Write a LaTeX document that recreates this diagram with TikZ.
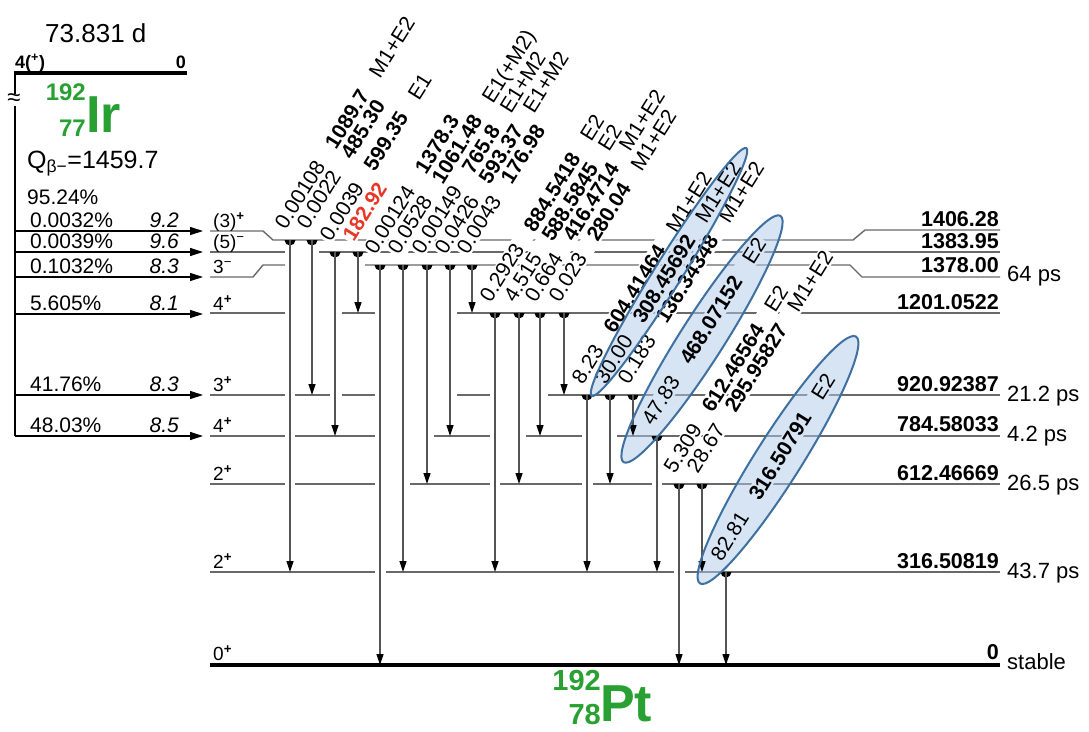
\documentclass[tikz,border=0pt]{standalone}
\usepackage{fontspec}
\setmainfont{Liberation Sans}
\usetikzlibrary{arrows.meta}
\pgfdeclarelayer{lev}\pgfdeclarelayer{msk}
\pgfsetlayers{lev,msk,main}
\definecolor{lvgray}{RGB}{105,105,105}
\definecolor{trgray}{RGB}{85,85,85}
\definecolor{nucgreen}{RGB}{40,160,50}
\definecolor{elfill}{RGB}{175,202,235}
\definecolor{eldraw}{RGB}{62,112,160}
\definecolor{redlab}{RGB}{232,55,40}
\newcommand\tr[3]{\fill (#1-5.5,#2) arc[start angle=180,end angle=360,radius=5.5pt];
  \draw[trans] (#1,#2) -- (#1,#3);}
\newcommand\mpol[1]{\hspace{0.9em}#1}
\newcommand\glab[6]{\node[glab] (#1) at (#2-5,#3-8) {#4\hspace{0.9em}\textbf{#5}#6};
  \begin{pgfonlayer}{msk}\fill[white] (#1.south west) -- (#1.south east) -- (#1.north east) -- (#1.north west) -- cycle;\end{pgfonlayer}}
\newcommand\feed[5]{\draw[feedar] (15,#2) -- (203,#2);
  \node[txt, anchor=base west] (p#1) at (30,#2-4) {#3};
  \node[txt, anchor=base east] (f#1) at (179,#2-4) {\itshape #4};
  \node[spin] (s#1) at (213,#2-4) {#5};}
\newcommand\hell[4]{% centre x, centre y, angle, minor radius
  \begin{pgfonlayer}{msk}\fill[elfill, fill opacity=0.5, shift={(#1,#2)}, rotate=#3] (0,0) ellipse [x radius=146, y radius=#4];\end{pgfonlayer}
  \draw[eldraw, line width=2pt, shift={(#1,#2)}, rotate=#3] (0,0) ellipse [x radius=146, y radius=#4];}
\begin{document}
\begin{tikzpicture}[x=1pt,y=-1pt,
  lvl/.style={draw=lvgray, line width=1.4pt},
  trans/.style={draw=trgray, line width=1.2pt, -{Triangle[length=11pt,width=7pt,color=black]}},
  feedar/.style={draw=black, line width=1.2pt, -{Triangle[length=13pt,width=8pt]}},
  glab/.style={rotate=58, anchor=base west, inner sep=1.5pt, font=\fontsize{21}{24}\selectfont},
  txt/.style={inner sep=0pt, font=\fontsize{21}{24}\selectfont},
  spin/.style={inner sep=0pt, anchor=base west, font=\fontsize{19}{22}\selectfont},
  elab/.style={inner sep=0pt, anchor=base east, font=\fontsize{21.5}{24}\selectfont\bfseries},
  tlab/.style={inner sep=0pt, anchor=base west, font=\fontsize{22}{24}\selectfont}]
\useasboundingbox (0,0) rectangle (1089,731);
\begin{pgfonlayer}{lev}
\fill[white] (0,0) rectangle (1089,731);
% levels
\draw[lvl] (210,231) -- (263,231) -- (273,240) -- (853,240) -- (865,230) -- (1000,230);
\draw[lvl] (210,252) -- (285,252) (319,252) -- (1000,252);
\draw[lvl] (210,277) -- (253,277) -- (263,265) -- (285,265) (365,265) -- (850,265) -- (862,277) -- (1000,277);
\draw[lvl] (210,313) -- (285,313) (342,313) -- (375,313) (457,313) -- (1000,313);
\draw[lvl] (210,395) -- (285,395) (295,395) -- (330,395) (342,395) -- (375,395) (457,395) -- (490,395) (548,395) -- (1000,395);
\draw[lvl] (210,436) -- (285,436) (295,436) -- (375,436) (434,436) -- (490,436) (526,436) -- (582,436) (617,436) -- (1000,436);
\draw[lvl] (210,484) -- (285,484) (295,484) -- (375,484) (410,484) -- (490,484) (500,484) -- (582,484) (593,484) -- (652,484) (662,484) -- (1000,484);
\draw[lvl] (210,572) -- (375,572) (386,572) -- (674,572) (685,572) -- (1000,572);
\draw[black, line width=4.5pt] (210,665) -- (1000,665);
\end{pgfonlayer}
% parent
\draw[black, line width=4pt] (14,73) -- (187,73);
\draw[black, line width=1.2pt] (15,73) -- (15,436);
\node[fill=white, inner sep=0pt, font=\fontsize{24}{26}\selectfont] (brk) at (14,100) {≈};
\node[inner sep=0pt, anchor=base west, font=\fontsize{26}{30}\selectfont] (hl) at (45,42) {73.831 d};
\node[inner sep=0pt, anchor=base west, font=\fontsize{18}{20}\selectfont\bfseries] (pj) at (15,68) {4(\textsuperscript{+})};
\node[inner sep=0pt, anchor=base east, font=\fontsize{18}{20}\selectfont\bfseries] (pe) at (186,68) {0};
\node[inner sep=0pt, anchor=base east, text=nucgreen, font=\fontsize{24}{26}\selectfont\bfseries] (ira) at (86,100) {192};
\node[inner sep=0pt, anchor=base east, text=nucgreen, font=\fontsize{24}{26}\selectfont\bfseries] (irz) at (86,136) {77};
\node[inner sep=0pt, anchor=base west, text=nucgreen, font=\fontsize{52}{56}\selectfont\bfseries] (ir) at (86,132) {Ir};
\node[inner sep=0pt, anchor=base west, font=\fontsize{25}{28}\selectfont] (q) at (27,168) {Q\textsubscript{β−}=1459.7};
\node[txt, anchor=base west] (p0) at (27,204) {95.24\%};
% feeding
\feed{1}{231}{0.0032\%}{9.2}{(3)\textsuperscript{\textbf{+}}}
\feed{2}{252}{0.0039\%}{9.6}{(5)\textsuperscript{−}}
\feed{3}{277}{0.1032\%}{8.3}{3\textsuperscript{−}}
\feed{4}{314}{5.605\%}{8.1}{4\textsuperscript{\textbf{+}}}
\feed{5}{395}{41.76\%}{8.3}{3\textsuperscript{\textbf{+}}}
\feed{6}{436}{48.03\%}{8.5}{4\textsuperscript{\textbf{+}}}
\node[spin] (s7) at (213,480) {2\textsuperscript{\textbf{+}}};
\node[spin] (s8) at (213,568) {2\textsuperscript{\textbf{+}}};
\node[spin] (s9) at (213,660) {0\textsuperscript{\textbf{+}}};
% level energies and half-lives
\node[elab] (e1) at (999,226) {1406.28};
\node[elab] (e2) at (999,248) {1383.95};
\node[elab] (e3) at (999,272) {1378.00};
\node[elab] (e4) at (999,309) {1201.0522};
\node[elab] (e5) at (999,391) {920.92387};
\node[elab] (e6) at (999,431) {784.58033};
\node[elab] (e7) at (999,480) {612.46669};
\node[elab] (e8) at (999,568) {316.50819};
\node[elab] (e9) at (999,659) {0};
\node[tlab] (t3) at (1007,281) {64 ps};
\node[tlab] (t5) at (1007,401) {21.2 ps};
\node[tlab] (t6) at (1007,441) {4.2 ps};
\node[tlab] (t7) at (1007,490) {26.5 ps};
\node[tlab] (t8) at (1007,578) {43.7 ps};
\node[tlab] (t9) at (1007,669) {stable};
% daughter
\node[inner sep=0pt, anchor=base east, text=nucgreen, font=\fontsize{29}{31}\selectfont\bfseries] (pta) at (601,690) {192};
\node[inner sep=0pt, anchor=base east, text=nucgreen, font=\fontsize{29}{31}\selectfont\bfseries] (ptz) at (601,724) {78};
\node[inner sep=0pt, anchor=base west, text=nucgreen, font=\fontsize{52}{56}\selectfont\bfseries] (pt) at (600,721) {Pt};
% transitions
\tr{290}{240}{572}\tr{312}{240}{395}
\tr{335}{252}{436}\tr{358}{252}{313}
\tr{380}{265}{665}\tr{403}{265}{572}\tr{427}{265}{484}\tr{450}{265}{436}\tr{472}{265}{313}
\tr{495}{313}{572}\tr{519}{313}{484}\tr{540}{313}{436}\tr{564}{313}{395}
\tr{587}{395}{572}\tr{610}{395}{484}\tr{633}{395}{436}
\tr{657}{436}{572}
\tr{679}{484}{665}\tr{702}{484}{572}
\tr{726}{572}{665}
% gamma labels
\glab{gA1}{290}{240}{0.00108}{1089.7}{\mpol{M1+E2}}
\glab{gA2}{312}{240}{0.0022}{485.30}{}
\glab{gA3}{335}{252}{0.0039}{599.35}{\mpol{E1}}
\node[glab, text=redlab, font=\fontsize{21}{24}\selectfont\bfseries] (gA4) at (353,244) {182.92};
\begin{pgfonlayer}{msk}\fill[white] (gA4.south west) -- (gA4.south east) -- (gA4.north east) -- (gA4.north west) -- cycle;\end{pgfonlayer}
\glab{gB1}{380}{265}{0.00124}{1378.3}{}
\glab{gB2}{403}{265}{0.0528}{1061.48}{\mpol{E1(+M2)}}
\glab{gB3}{427}{265}{0.00149}{765.8}{\mpol{E1+M2}}
\glab{gB4}{450}{265}{0.0426}{593.37}{\mpol{E1+M2}}
\glab{gB5}{472}{265}{0.0043}{176.98}{}
\glab{gC1}{495}{313}{0.2923}{884.5418}{\mpol{E2}}
\glab{gC2}{519}{313}{4.515}{588.5845}{\mpol{E2}}
\glab{gC3}{540}{313}{0.664}{416.4714}{\mpol{M1+E2}}
\glab{gC4}{564}{313}{0.023}{280.04}{\mpol{M1+E2}}
\glab{gD1}{587}{395}{8.23}{604.41464}{\mpol{M1+E2}}
\glab{gD2}{610}{395}{30.00}{308.45692}{\mpol{M1+E2}}
\glab{gD3}{633}{395}{0.183}{136.34348}{\mpol{M1+E2}}
\glab{gE1}{657}{436}{47.83}{468.07152}{\mpol{E2}}
\glab{gF1}{679}{484}{5.309}{612.46564}{\mpol{E2}}
\glab{gF2}{702}{484}{28.67}{295.95827}{\mpol{M1+E2}}
\glab{gG1}{726}{572}{82.81}{316.50791}{\mpol{E2}}
% highlight ellipses
\hell{669}{272}{58}{14}
\hell{702}{339}{57.5}{22}
\hell{778}{460}{57.7}{23}
\end{tikzpicture}
\end{document}
